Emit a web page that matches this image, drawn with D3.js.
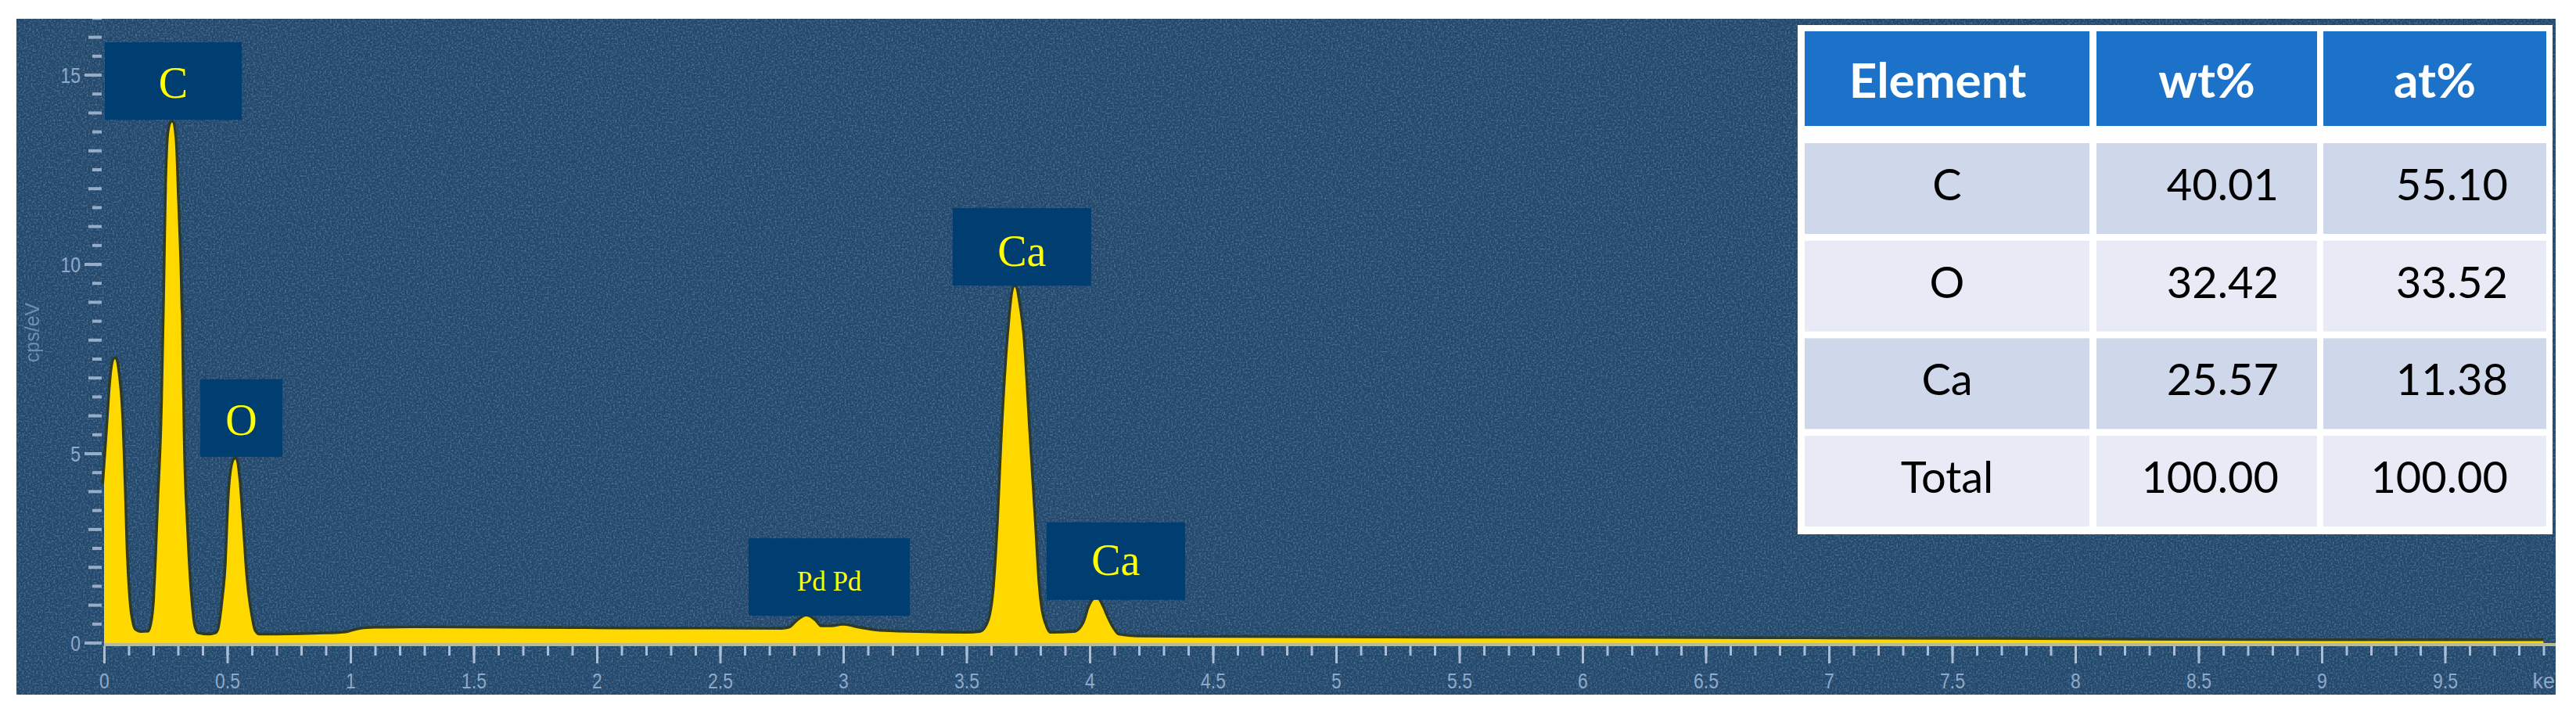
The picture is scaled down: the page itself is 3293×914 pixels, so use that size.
<!DOCTYPE html>
<html><head><meta charset="utf-8">
<script src="https://cdn.jsdelivr.net/npm/d3@7"></script>
<style>html,body{margin:0;padding:0;background:#fff;} svg{display:block}</style>
</head><body>
<svg id="chart" width="3293" height="914"></svg>
<script>
// ---------------- data ----------------
const spectrumKeV = [0.000,0.015,0.030,0.044,0.058,0.070,0.080,0.090,0.100,0.110,0.125,0.150,0.180,0.195,
  0.207,0.223,0.238,0.247,0.255,0.265,0.276,0.287,0.298,0.312,0.320,0.333,0.350,0.365,0.380,0.420,0.455,
  0.467,0.483,0.498,0.508,0.520,0.533,0.546,0.560,0.575,0.593,0.610,0.630,
  0.700,0.800,0.900,0.980,1.030,1.100,1.300,1.600,1.900,2.200,2.500,2.750,
  2.780,2.820,2.850,2.880,2.910,2.950,3.000,3.050,3.150,3.300,3.500,3.555,
  3.588,3.615,3.631,3.647,3.673,3.696,3.712,3.726,3.752,3.774,3.790,3.816,3.840,3.937,
  3.980,4.000,4.028,4.050,4.070,4.095,4.117,4.200,
  4.500,5.000,5.500,6.000,6.500,7.000,7.500,8.000,8.500,9.000,9.500,9.900];
const spectrumCounts = [4.2,5.6,7.0,7.5,7.0,6.0,4.2,2.2,1.1,0.6,0.33,0.27,0.28,0.5,
  1.2,3.7,6.2,9.1,12.0,13.5,13.75,13.3,11.5,8.7,5.4,3.1,1.2,0.4,0.24,0.2,0.24,
  0.35,1.05,2.15,3.7,4.6,4.85,4.3,3.06,1.7,0.78,0.3,0.2,
  0.2,0.21,0.23,0.26,0.34,0.38,0.39,0.38,0.37,0.36,0.36,0.35,
  0.38,0.6,0.7,0.6,0.42,0.42,0.46,0.4,0.3,0.27,0.25,0.27,
  0.5,1.5,3.2,5.5,8.2,9.4,8.9,8.2,5.5,3.2,1.5,0.5,0.25,0.27,
  0.55,0.95,1.17,0.95,0.65,0.35,0.2,0.15,
  0.14,0.13,0.12,0.12,0.11,0.1,0.09,0.08,0.06,0.05,0.05,0.05];

const xTickValues = [0,0.5,1,1.5,2,2.5,3,3.5,4,4.5,5,5.5,6,6.5,7,7.5,8,8.5,9,9.5];
const xTickLabels = ["0","0.5","1","1.5","2","2.5","3","3.5","4","4.5","5","5.5","6","6.5","7","7.5","8","8.5","9","9.5"];
const xUnitLabel = "keV";
const yTickValues = [0,5,10,15];
const yTickLabels = ["0","5","10","15"];
const yTitle = "cps/eV";

const peakLabels = ["C","O","Pd Pd","Ca","Ca"];
const peakLabelKeV = [0.281,0.557,2.943,3.725,4.106];
const peakLabelCounts = [13.82,4.92,0.72,9.44,1.14];

const tableHeaders = ["Element","wt%","at%"];
const tableElements = ["C","O","Ca","Total"];
const tableWt = ["40.01","32.42","25.57","100.00"];
const tableAt = ["55.10","33.52","11.38","100.00"];

// ---------------- layout ----------------
const svg = d3.select("#chart");
const panel = {x:21, y:24, w:3246, h:864};
const x = d3.scaleLinear().domain([0,10]).range([133, 3283]);
const y = d3.scaleLinear().domain([0,15]).range([822, 96]);

const defs = svg.append("defs");
defs.append("clipPath").attr("id","panelClip").append("rect")
  .attr("x",panel.x).attr("y",panel.y).attr("width",panel.w).attr("height",panel.h);
const f = defs.append("filter").attr("id","noise").attr("x",0).attr("y",0).attr("width","100%").attr("height","100%");
f.append("feTurbulence").attr("type","fractalNoise").attr("baseFrequency","0.45").attr("numOctaves",2).attr("seed",4);
f.append("feColorMatrix").attr("type","matrix")
  .attr("values","0 0 0 0 0.55  0 0 0 0 0.68  0 0 0 0 0.85  0.9 0 0 0 -0.38");

const g = svg.append("g").attr("clip-path","url(#panelClip)");
g.append("rect").attr("x",panel.x).attr("y",panel.y).attr("width",panel.w).attr("height",panel.h)
  .attr("fill","#21476b");
g.append("rect").attr("x",panel.x).attr("y",panel.y).attr("width",panel.w).attr("height",panel.h)
  .attr("filter","url(#noise)").attr("opacity",0.8);

// spectrum
const pts = spectrumKeV.map((k,i)=>[k, spectrumCounts[i]]);
const area = d3.area().x(d=>x(d[0])).y0(y(0)).y1(d=>y(d[1])).curve(d3.curveMonotoneX);
const line = d3.line().x(d=>x(d[0])).y(d=>y(d[1])).curve(d3.curveMonotoneX);
g.append("path").attr("d", line(pts)).attr("fill","none")
  .attr("stroke","#2e3410").attr("stroke-width",7).attr("stroke-opacity",0.75).attr("stroke-linejoin","round");
g.append("path").attr("d", area(pts)).attr("fill","#ffd800");

// axis baseline
g.append("line").attr("x1",x(0)).attr("x2",panel.x+panel.w).attr("y1",y(0)+2).attr("y2",y(0)+2)
  .attr("stroke","#c9c795").attr("stroke-width",4).attr("stroke-opacity",0.9);

// x axis: minor ticks
const tickColor = "#a9bdd6", labelColor = "#8ea9c9";
const minorX = x.ticks(100).filter(v=>v<=9.9+1e-9);
const xMinor = g.append("g").attr("transform",`translate(0,${y(0)+4})`)
  .call(d3.axisBottom(x).tickValues(minorX).tickSize(12).tickFormat(""));
xMinor.select(".domain").remove();
xMinor.selectAll(".tick line").attr("stroke",tickColor).attr("stroke-width",3);

const xMajor = g.append("g").attr("transform",`translate(0,${y(0)+4})`)
  .call(d3.axisBottom(x).tickValues(xTickValues).tickSize(22).tickFormat((d,i)=>xTickLabels[i]));
xMajor.select(".domain").remove();
xMajor.selectAll(".tick line").attr("stroke",tickColor).attr("stroke-width",3);
xMajor.selectAll(".tick text").attr("y",54).attr("dy",0)
  .attr("fill",labelColor).attr("font-family","Liberation Sans, Arial, sans-serif")
  .attr("font-size",27).attr("transform","scale(0.85,1)");
// unit label at right end
g.append("text").attr("x", x(9.9)-14).attr("y", y(0)+58).text(xUnitLabel)
  .attr("fill",labelColor).attr("font-family","Liberation Sans, Arial, sans-serif").attr("font-size",27);

// y axis ticks
const yAll = d3.range(0, 16.6, 0.5);
const yT = g.append("g");
yT.selectAll("line").data(yAll).join("line")
  .attr("x1", d => d%5===0 ? 108 : (d%1===0 ? 113 : 118)).attr("x2",130)
  .attr("y1", d=>y(d)).attr("y2", d=>y(d))
  .attr("stroke", tickColor).attr("stroke-width",4).attr("stroke-opacity",0.85);
const yAx = g.append("g").attr("transform","translate(103,0)")
  .call(d3.axisLeft(y).tickValues(yTickValues).tickSize(0).tickPadding(0).tickFormat((d,i)=>yTickLabels[i]));
yAx.select(".domain").remove();
yAx.selectAll(".tick text").attr("x",0).attr("dy","0.36em")
  .attr("fill",labelColor).attr("font-family","Liberation Sans, Arial, sans-serif")
  .attr("font-size",27).attr("transform","scale(0.85,1)");
g.append("text").attr("transform","translate(50,425) rotate(-90)").attr("text-anchor","middle")
  .text(yTitle).attr("fill","#7f9dc2").attr("font-family","Liberation Sans, Arial, sans-serif")
  .attr("font-size",25).attr("opacity",0.8);

// peak annotation boxes
const boxW = [175,105,206,177,177], boxH = 99, fs = [56,56,35,56,56], dyBase = [21,22,17,24,18];
const ann = g.append("g").selectAll("g").data(peakLabels).join("g");
ann.append("rect")
  .attr("x",(d,i)=>x(peakLabelKeV[i]) - boxW[i]/2)
  .attr("y",(d,i)=>y(peakLabelCounts[i]) - boxH)
  .attr("width",(d,i)=>boxW[i]).attr("height",boxH).attr("fill","#003d71");
ann.append("text")
  .attr("x",(d,i)=>x(peakLabelKeV[i]))
  .attr("y",(d,i)=>y(peakLabelCounts[i]) - boxH/2 + dyBase[i])
  .attr("text-anchor","middle").attr("fill","#ffff00")
  .attr("font-family","Liberation Serif, Times New Roman, serif")
  .attr("font-size",(d,i)=>fs[i]).text(d=>d);

// ---------------- table ----------------
const T = svg.append("g");
T.append("rect").attr("x",2298).attr("y",32).attr("width",965).attr("height",651).attr("fill","#ffffff");
const colX = [2307,2680,2970], colW = [364,282,285];
const headTop = 40, headH = 121;
T.selectAll("rect.h").data(tableHeaders).join("rect").attr("class","h")
  .attr("x",(d,i)=>colX[i]).attr("y",headTop).attr("width",(d,i)=>colW[i]).attr("height",headH)
  .attr("fill","#1b72c8");
T.selectAll("text.h").data(tableHeaders).join("text").attr("class","h")
  .attr("x",(d,i)=>colX[i]+colW[i]/2 - (i===0?12:0)).attr("y",headTop+headH/2+24)
  .attr("text-anchor","middle").attr("fill","#fff").attr("font-family","Lato, sans-serif")
  .attr("font-weight","bold").attr("font-size",62).text(d=>d);

const rowTop = i => 183 + i*124.7, rowH = 116;
const rows = tableElements.map((e,i)=>[e, tableWt[i], tableAt[i]]);
rows.forEach((r,i)=>{
  r.forEach((v,j)=>{
    T.append("rect").attr("x",colX[j]).attr("y",rowTop(i)).attr("width",colW[j]).attr("height",rowH)
      .attr("fill", i%2===0 ? "#cfd7ea" : "#e8ebf6");
    T.append("text")
      .attr("x", j===0 ? colX[j]+colW[j]/2 : colX[j]+colW[j]-49)
      .attr("y", rowTop(i)+rowH/2+15)
      .attr("text-anchor", j===0 ? "middle" : "end")
      .attr("fill","#000").attr("font-family","Lato, sans-serif").attr("font-size",56).text(v);
  });
});
</script>
</body></html>
